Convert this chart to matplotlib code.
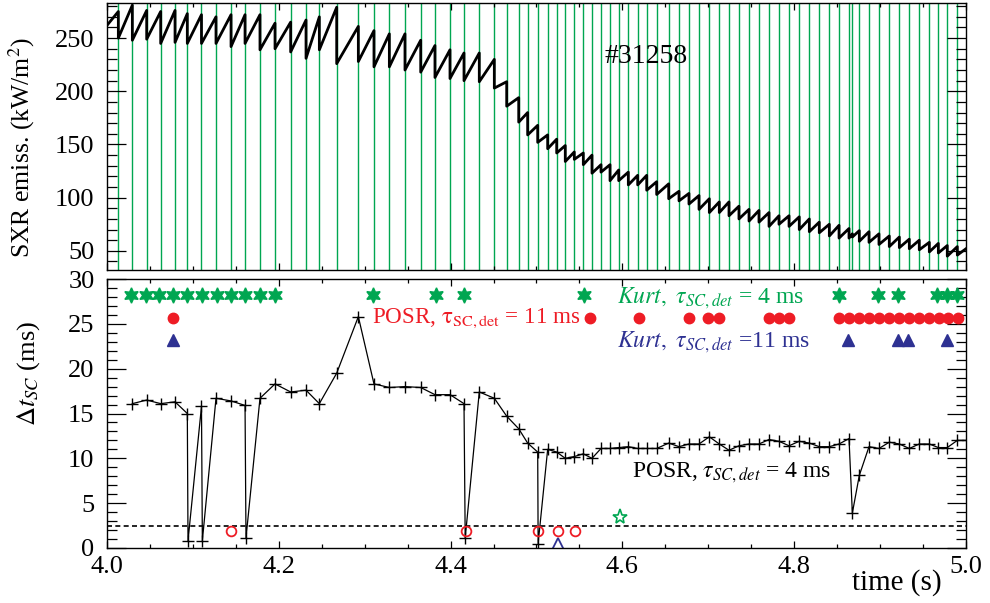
import matplotlib
matplotlib.use("Agg")
import matplotlib.pyplot as plt
import numpy as np

plt.rcParams['font.family'] = 'serif'
plt.rcParams['font.serif'] = ['Liberation Serif', 'DejaVu Serif']
plt.rcParams['mathtext.fontset'] = 'stix'

# --- datos ---
# tiempos de los colapsos (lineas verdes del panel superior)
crash_t = [4.0132, 4.0295, 4.0462, 4.0625, 4.0792, 4.0935, 4.1100, 4.1269, 4.1444, 4.1607,
           4.1781, 4.1956, 4.2138, 4.2317, 4.2472, 4.2674, 4.2926, 4.3108, 4.3287, 4.3469,
           4.3652, 4.3818, 4.3993, 4.4156, 4.4334, 4.4509, 4.4653, 4.4793, 4.4897, 4.5014,
           4.5130, 4.5235, 4.5335, 4.5440, 4.5545, 4.5646, 4.5751, 4.5856, 4.5957, 4.6069,
           4.6178, 4.6283, 4.6399, 4.6539, 4.6659, 4.6775, 4.6892, 4.7012, 4.7128, 4.7241,
           4.7357, 4.7474, 4.7590, 4.7707, 4.7823, 4.7940, 4.8059, 4.8176, 4.8292, 4.8409,
           4.8522, 4.8638, 4.8677, 4.8758, 4.8871, 4.8987, 4.9107, 4.9224, 4.9340, 4.9456,
           4.9573, 4.9678, 4.9782, 4.9899]
# SXR justo antes (pre) y justo despues (post) de cada colapso, kW/m^2
sxr_pre = [275, 281, 276, 275, 276, 273, 272, 270, 272, 272,
           272, 264, 265, 267, 270, 279, 261, 257, 254, 254,
           248, 243, 239, 236, 236, 230, 209, 194, 180, 168,
           159, 155, 149, 143, 142, 140, 131, 131, 126, 124,
           121, 121, 115, 113, 106, 104, 102, 99, 96, 96,
           92, 89, 88, 86, 83, 83, 82, 80, 77, 75,
           74, 71, 66, 69, 68, 66, 64, 63, 61, 60,
           58, 57, 55, 54]
sxr_post = [250, 248, 249, 245, 246, 245, 245, 245, 242, 245,
            239, 240, 237, 231, 239, 226, 228, 223, 223, 220,
            218, 213, 212, 210, 209, 203, 186, 171, 159, 152,
            146, 142, 134, 136, 131, 123, 124, 116, 116, 112,
            112, 107, 103, 99, 97, 94, 89, 86, 86, 83,
            80, 78, 77, 73, 75, 73, 70, 68, 67, 64,
            62, 62, 63, 59, 58, 56, 54, 53, 52, 51,
            49, 48, 45, 46]
sxr_start = 262   # valor en t = 4.0 s
sxr_end = 52      # valor en t = 5.0 s

# POSR, tau = 4 ms (linea negra con cruces)
posr4_t = [4.0295, 4.0462, 4.0625, 4.0792, 4.0935, 4.0943, 4.1100, 4.1110, 4.1269, 4.1444,
           4.1607, 4.1618, 4.1781, 4.1956, 4.2138, 4.2317, 4.2472, 4.2674, 4.2926, 4.3108,
           4.3287, 4.3469, 4.3652, 4.3818, 4.3993, 4.4156, 4.4170, 4.4334, 4.4509, 4.4653,
           4.4793, 4.4897, 4.5014, 4.5019, 4.5130, 4.5235, 4.5335, 4.5440, 4.5545, 4.5646,
           4.5751, 4.5856, 4.5957, 4.6069, 4.6178, 4.6283, 4.6399, 4.6539, 4.6659, 4.6775,
           4.6892, 4.7012, 4.7128, 4.7241, 4.7357, 4.7474, 4.7590, 4.7707, 4.7823, 4.7940,
           4.8059, 4.8176, 4.8292, 4.8409, 4.8522, 4.8638, 4.8677, 4.8758, 4.8871, 4.8987,
           4.9107, 4.9224, 4.9340, 4.9456, 4.9573, 4.9678, 4.9782, 4.9899, 5.0019]
posr4_dt = [16.1, 16.5, 16.1, 16.3, 15.0, 0.8, 15.8, 0.8, 16.7, 16.4,
            15.9, 1.1, 16.7, 18.3, 17.4, 17.6, 16.1, 19.5, 25.8, 18.3,
            17.9, 18.0, 17.9, 17.1, 17.1, 16.1, 1.1, 17.4, 16.7, 14.7,
            13.3, 11.7, 10.7, 0.5, 11.0, 10.7, 10.0, 10.2, 10.5, 10.0,
            11.1, 11.1, 11.2, 11.3, 11.1, 11.1, 11.1, 11.7, 11.3, 11.6,
            11.6, 12.4, 11.6, 10.9, 11.4, 11.6, 11.6, 12.1, 11.9, 11.4,
            11.9, 11.7, 11.3, 11.3, 11.6, 12.2, 3.9, 8.1, 11.3, 11.1,
            11.8, 11.6, 11.1, 11.6, 11.6, 11.2, 11.2, 12.0, 12.0]

# detecciones (filas de simbolos)
kurt4_t = [4.0276, 4.0451, 4.0609, 4.0772, 4.0935, 4.1102, 4.1277, 4.1444, 4.1607, 4.1781,
           4.1956, 4.3100, 4.3830, 4.4160, 4.5557, 4.8520, 4.8980, 4.9205, 4.9660, 4.9780,
           4.9900]
posr11_t = [4.0772, 4.5623, 4.6197, 4.6775, 4.6993, 4.7125, 4.7707, 4.7823, 4.7940, 4.8522,
            4.8638, 4.8754, 4.8871, 4.8987, 4.9104, 4.9220, 4.9336, 4.9453, 4.9569, 4.9686,
            4.9794, 4.9911]
kurt11_t = [4.0772, 4.8622, 4.9205, 4.9321, 4.9782]
kurt4_row, posr11_row, kurt11_row = 28.2, 25.6, 23.2

# detecciones bajo el umbral (simbolos huecos)
posr11_low_t = [4.1444, 4.4180, 4.5014, 4.5254, 4.5448]
posr11_low_dt = [1.9, 1.9, 1.9, 1.9, 1.9]
kurt11_low_t = [4.5254]
kurt11_low_dt = [0.5]
kurt4_low_t = [4.5972]
kurt4_low_dt = [3.5]
threshold = 2.5

GREEN = '#00a651'
RED = '#ee1c25'
BLUE = '#2e3192'

# se arma la serie en diente de sierra
sxr_t = [4.0]
sxr_v = [sxr_start]
for t, a, b in zip(crash_t, sxr_pre, sxr_post):
    sxr_t += [t, t]
    sxr_v += [a, b]
sxr_t.append(5.0)
sxr_v.append(sxr_end)

fig = plt.figure(figsize=(9.9, 6.03), dpi=100)
W, H = 990.0, 603.0
ax1 = fig.add_axes([107 / W, 1 - 270 / H, 859 / W, 267 / H])
ax2 = fig.add_axes([107 / W, 1 - 548 / H, 859 / W, 269 / H])

# panel superior
for t in crash_t:
    ax1.axvline(t, color=GREEN, lw=1.0, zorder=1)
ax1.plot(sxr_t, sxr_v, color='black', lw=2.0, zorder=3)
ax1.text(4.628, 233, '#31258', fontsize=20, ha='center', va='center')
ax1.set_xlim(4.0, 5.0)
ax1.set_ylim(32, 283)
ax1.set_yticks([50, 100, 150, 200, 250])
ax1.set_yticks(np.arange(40, 283, 10), minor=True)
ax1.set_ylabel('SXR emiss. (kW/m$^2$)', fontsize=18.5)
ax1.yaxis.set_label_coords(-0.081, 0.46)
ax1.tick_params(labelbottom=False)

# panel inferior
ax2.axhline(threshold, color='black', ls=(0, (3, 2)), lw=1.2)
ax2.plot(posr4_t, posr4_dt, color='black', lw=0.9, marker='+', ms=9, mew=1.0)
ax2.plot(kurt4_t, [kurt4_row] * len(kurt4_t), ls='none', marker=(6, 1, 0), ms=11,
         color=GREEN)
ax2.plot(posr11_t, [posr11_row] * len(posr11_t), ls='none', marker='o', ms=7.5, color=RED)
ax2.plot(kurt11_t, [kurt11_row] * len(kurt11_t), ls='none', marker='^', ms=8, color=BLUE)
ax2.plot(posr11_low_t, posr11_low_dt, ls='none', marker='o', ms=7, mfc='none',
         mec=RED, mew=1.3)
ax2.plot(kurt11_low_t, kurt11_low_dt, ls='none', marker='^', ms=9, mfc='none',
         mec=BLUE, mew=1.3)
ax2.plot(kurt4_low_t, kurt4_low_dt, ls='none', marker='*', ms=11, mfc='none',
         mec=GREEN, mew=1.2)

ax2.text(4.594, 27.9, r'$\mathit{Kurt,}$ $\tau_{SC,det}$ = 4 ms', color=GREEN,
         fontsize=17, va='center', ha='left')
ax2.text(4.3085, 25.6, r'POSR, $\mathrm{\tau_{SC,det}}$ = 11 ms', color=RED,
         fontsize=16.6, va='center', ha='left')
ax2.text(4.594, 22.9, r'$\mathit{Kurt,}$ $\tau_{SC,det}$ =11 ms', color=BLUE,
         fontsize=17, va='center', ha='left')
ax2.text(4.611, 8.4, r'POSR, $\tau_{SC,det}$ = 4 ms', color='black',
         fontsize=17, va='center', ha='left')

ax2.set_xlim(4.0, 5.0)
ax2.set_ylim(0, 30)
ax2.set_xticks([4.0, 4.2, 4.4, 4.6, 4.8, 5.0])
ax2.set_xticklabels(['4.0', '4.2', '4.4', '4.6', '4.8', '5.0'])
ax2.set_yticks([0, 5, 10, 15, 20, 25, 30])
ax2.set_yticks(np.arange(0, 30, 1), minor=True)
ax2.set_ylabel(r'$\Delta t_{SC}$ (ms)', fontsize=19)
ax2.yaxis.set_label_coords(-0.076, 0.65)
fig.text(897 / W, 1 - 583 / H, 'time (s)', fontsize=21, ha='center', va='center')

for ax in (ax1, ax2):
    ax.set_xticks(np.arange(4.0, 5.001, 0.05), minor=True)
    ax.tick_params(which='both', direction='in', top=True, right=True, labelsize=19)
    ax.tick_params(axis='y', which='major', length=13.5, width=0.9, pad=9)
    ax.tick_params(axis='y', which='minor', length=7, width=0.9)
    ax.tick_params(axis='x', which='major', length=5, width=0.9, pad=6)
    ax.tick_params(axis='x', which='minor', length=3, width=0.9)
    for s in ax.spines.values():
        s.set_linewidth(1.0)

fig.savefig('out.png', dpi=100)
